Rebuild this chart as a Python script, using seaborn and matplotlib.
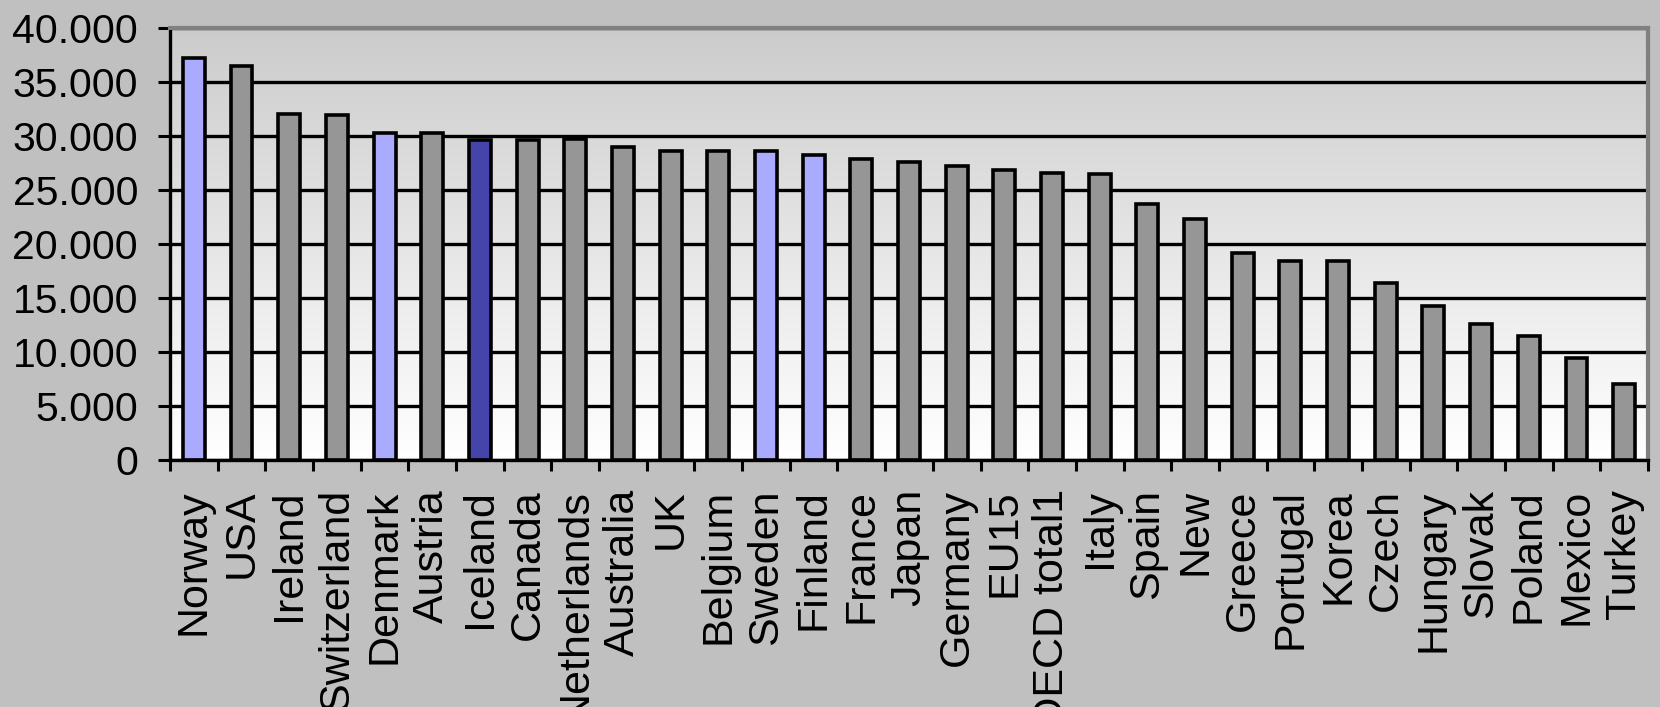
import numpy as np
import pandas as pd
import matplotlib
matplotlib.use("Agg")
import matplotlib.pyplot as plt
from matplotlib.colors import LinearSegmentedColormap
from matplotlib.ticker import FuncFormatter, FixedLocator
import seaborn as sns

# GDP per capita by country (PPP, USD)
countries = ["Norway", "USA", "Ireland", "Switzerland", "Denmark", "Austria",
             "Iceland", "Canada", "Netherlands", "Australia", "UK", "Belgium",
             "Sweden", "Finland", "France", "Japan", "Germany", "EU15",
             "OECD total1", "Italy", "Spain", "New", "Greece", "Portugal",
             "Korea", "Czech", "Hungary", "Slovak", "Poland", "Mexico", "Turkey"]
values = [37200, 36500, 32000, 31950, 30300, 30250,
          29650, 29650, 29700, 29000, 28600, 28600,
          28600, 28250, 27900, 27550, 27250, 26850,
          26550, 26500, 23750, 22300, 19150, 18450,
          18450, 16350, 14250, 12550, 11500, 9400, 7000]
nordic = ["Norway", "Denmark", "Sweden", "Finland"]
highlight = "Iceland"

GRAY, NORDIC_BLUE, ICELAND_BLUE = "#969696", "#AAAAFF", "#4444AA"
palette = {c: (ICELAND_BLUE if c == highlight else NORDIC_BLUE if c in nordic else GRAY)
           for c in countries}

df = pd.DataFrame({"country": countries, "value": values})

sns.set_style("white")
plt.rcParams["font.family"] = ["Liberation Sans", "DejaVu Sans"]
plt.rcParams.update({"text.color": "black", "xtick.color": "black",
                     "ytick.color": "black", "axes.labelcolor": "black"})

fig = plt.figure(figsize=(16.6, 7.07), dpi=100, facecolor="#C0C0C0")
ax = fig.add_axes([170 / 1660, 1 - 460 / 707, 1478 / 1660, 432 / 707])
ax.set_facecolor("white")

# vertical gradient for the plot area
grad = LinearSegmentedColormap.from_list("bg", ["#FFFFFF", "#CCCCCC"])
ax.imshow(np.linspace(0, 1, 256).reshape(-1, 1), cmap=grad, origin="lower",
          extent=[0, 1, 0, 1], transform=ax.transAxes, aspect="auto", zorder=0)

sns.barplot(data=df, x="country", y="value", hue="country", palette=palette,
            legend=False, width=0.46, edgecolor="black", linewidth=2.6,
            saturation=1, ax=ax, zorder=2)

ax.set_xlim(-0.5, len(countries) - 0.5)
ax.set_ylim(0, 40000)
ax.set_yticks(np.arange(0, 40001, 5000))
ax.yaxis.set_major_formatter(FuncFormatter(lambda v, p: f"{int(v):,}".replace(",", ".")))

ax.set_axisbelow(True)
ax.yaxis.grid(True, color="black", linewidth=2.4, zorder=1)
ax.xaxis.grid(False)

ax.set_xlabel("")
ax.set_ylabel("")

# category labels at centres, tick marks on the category boundaries
ax.set_xticks(np.arange(len(countries)))
ax.set_xticklabels(countries, rotation=90, ha="center", va="top", fontsize=31,
                   color="black")
ax.xaxis.set_minor_locator(FixedLocator(np.arange(-0.5, len(countries), 1)))
ax.tick_params(axis="x", which="major", length=0, pad=21)
ax.tick_params(axis="x", which="minor", length=8, width=2.2, color="black",
               direction="out", bottom=True)
ax.tick_params(axis="y", which="major", length=9, width=2.2, color="black",
               direction="out", left=True, labelsize=29.5, pad=14,
               labelcolor="black")

for side in ("left", "bottom"):
    ax.spines[side].set_color("black")
    ax.spines[side].set_linewidth(2.4)
for side in ("top", "right"):
    ax.spines[side].set_visible(True)
    ax.spines[side].set_color("#808080")
    ax.spines[side].set_linewidth(3)

fig.savefig("out.png", dpi=100, facecolor=fig.get_facecolor())
